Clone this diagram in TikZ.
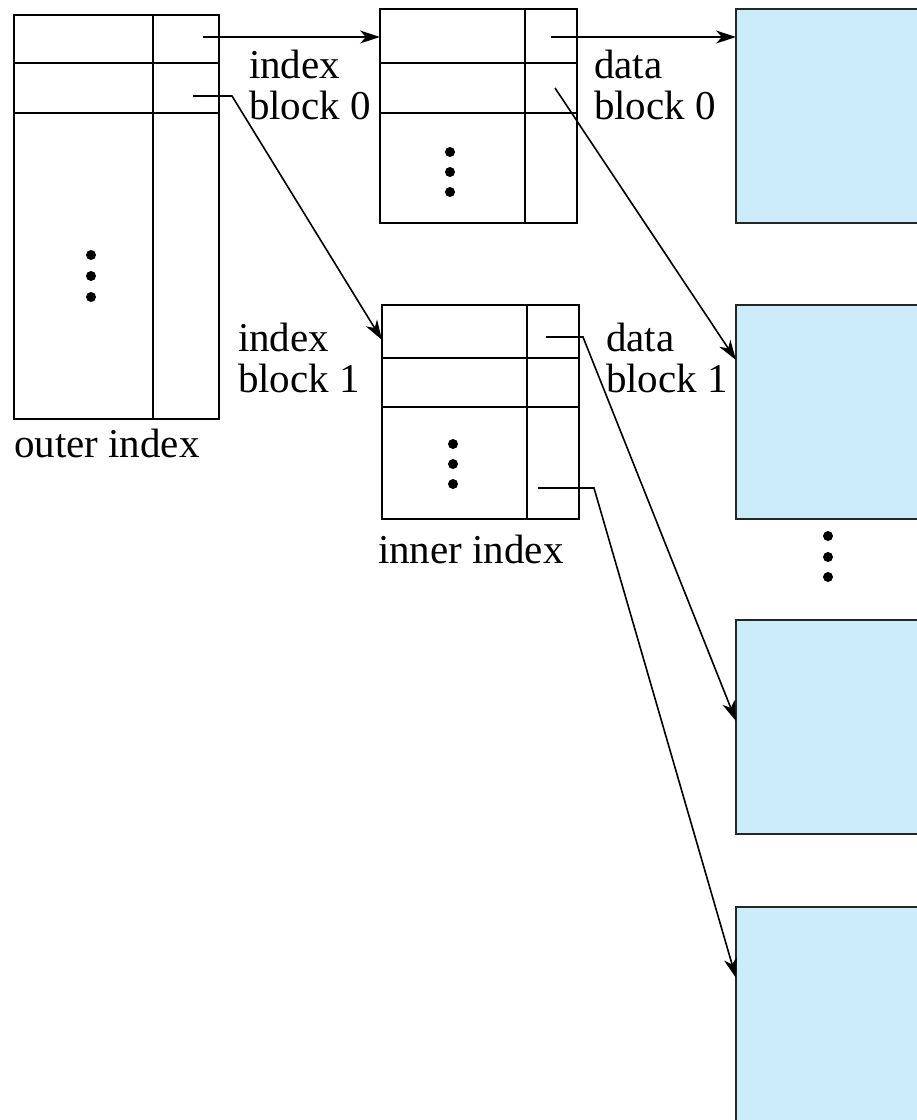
\documentclass[tikz,border=0pt]{standalone}
\usepackage{fontspec}
\setmainfont{Liberation Serif}
\usepackage{tikz}
\usetikzlibrary{arrows.meta}
\definecolor{datablue}{RGB}{204,236,249}

\begin{document}
\begin{tikzpicture}
            [x=1pt,y=-1pt,line width=2pt,
             blk/.style={draw,rectangle,inner sep=0pt,outer sep=0pt,minimum width=197pt,minimum height=214pt},
             dblk/.style={blk,fill=datablue,draw=black!85,minimum width=220pt},
             ptr/.style={line width=1.6pt,-{Stealth[length=20pt,width=13pt,inset=6pt]}},
             lbl/.style={font=\fontsize{41}{41}\selectfont,align=left,inner sep=0pt},
             dot/.style={circle,fill,inner sep=0pt,minimum size=10pt}]
            \useasboundingbox (0,0) rectangle (917,1120);
            % blocks
            \node[blk,minimum width=205pt,minimum height=404pt] (outer) at (116.5,216.5) {};
            \node[blk] (iblk0) at (478.5,116) {};
            \node[blk] (iblk1) at (480.5,412) {};
            \node[dblk] (dblk0) at (846,116) {};
            \node[dblk] (dblk1) at (846,412) {};
            \node[dblk] (dblk2) at (846,727) {};
            \node[dblk,minimum height=240pt] (dblk3) at (846,1027) {};
            % rows and columns
            \draw (153,15) -- (153,418);
            \draw (14,63) -- (219,63);
            \draw (14,113) -- (219,113);
            \draw (525,9) -- (525,223);
            \draw (380,63) -- (577,63);
            \draw (380,113) -- (577,113);
            \draw (527,305) -- (527,519);
            \draw (382,358) -- (579,358);
            \draw (382,407) -- (579,407);
            % dots
            \foreach \y in {255,276,297} \node[dot] (od\y) at (91,\y) {};
            \foreach \y in {152,172,192} \node[dot] (id\y) at (450,\y) {};
            \foreach \y in {444,464,484} \node[dot] (jd\y) at (453,\y) {};
            \foreach \y in {536,557,577} \node[dot] (dd\y) at (828,\y) {};
            % labels
            \node[lbl,anchor=north west] (lidx0) at (248,49) {index\\block 0};
            \node[lbl,anchor=north west] (ldat0) at (593,49) {data\\block 0};
            \node[lbl,anchor=north west] (lidx1) at (237,322) {index\\block 1};
            \node[lbl,anchor=north west] (ldat1) at (605,322) {data\\block 1};
            \node[lbl,anchor=base west] (louter) at (13,457) {outer index};
            \node[lbl,anchor=base west] (linner) at (377,563) {inner index};
            % pointers
            \coordinate (p0) at (203,37);
            \coordinate (p1) at (193,96);
            \coordinate (q0) at (551,37);
            \coordinate (q1) at (555,88);
            \coordinate (r0) at (546,337);
            \coordinate (r1) at (538,488);
            \draw[ptr] (p0) -- (p0 -| iblk0.west);
            \draw[ptr] (p1) -- (232,96) -- ([yshift=-35pt]iblk1.north west);
            \draw[ptr] (q0) -- (q0 -| dblk0.west);
            \draw[ptr] (q1) -- ([yshift=-55pt]dblk1.north west);
            \draw[ptr] (r0) -- (583,337) -- ([yshift=-101pt]dblk2.north west);
            \draw[ptr] (r1) -- (594,488) -- ([yshift=-71pt]dblk3.north west);
\end{tikzpicture}
\end{document}
